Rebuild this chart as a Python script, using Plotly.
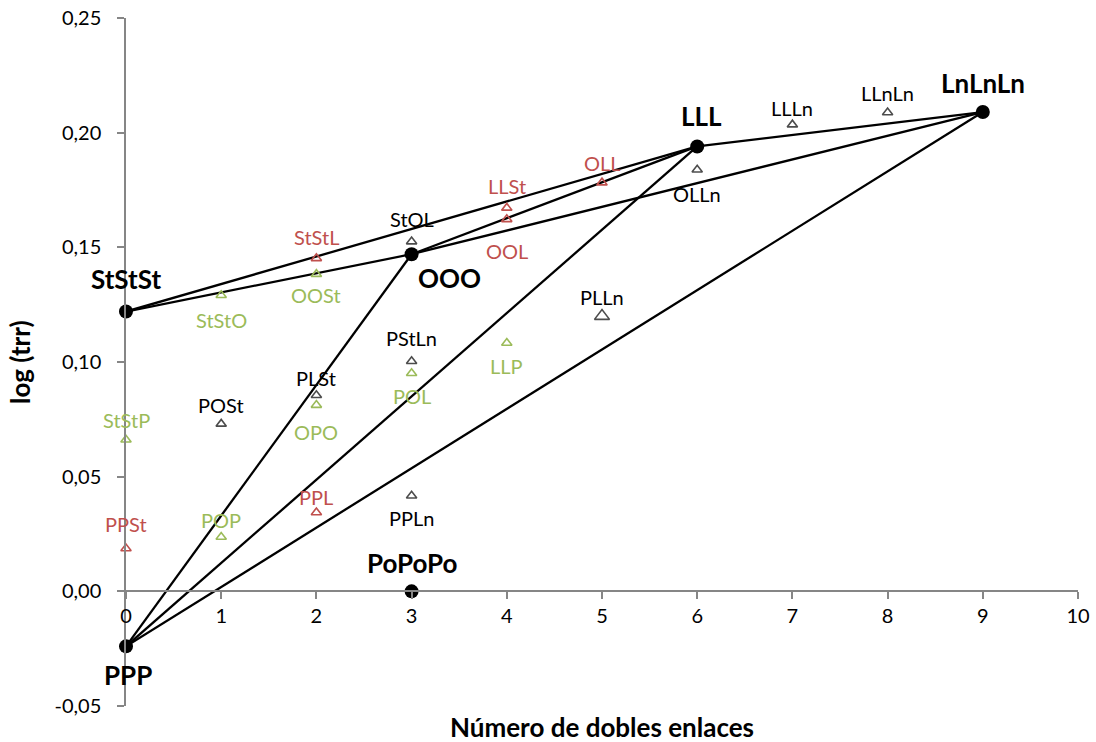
import plotly.graph_objects as go

# ---- data ----
main_names = ["PPP", "StStSt", "OOO", "LLL", "LnLnLn", "PoPoPo"]
main_x = [0, 0, 3, 6, 9, 3]
main_y = [-0.024, 0.122, 0.147, 0.194, 0.209, 0.000]

links = [("StStSt", "LLL"), ("StStSt", "OOO"), ("OOO", "LLL"), ("OOO", "LnLnLn"),
         ("LLL", "LnLnLn"), ("PPP", "OOO"), ("PPP", "LLL"), ("PPP", "LnLnLn")]

black_names = ["POSt", "PLSt", "StOL", "PStLn", "PPLn", "PLLn", "OLLn", "LLLn", "LLnLn"]
black_x = [1, 2, 3, 3, 3, 5, 6, 7, 8]
black_y = [0.0730, 0.0855, 0.1525, 0.1003, 0.0417, 0.1200, 0.1838, 0.2035, 0.2088]

red_names = ["PPSt", "PPL", "StStL", "LLSt", "OOL", "OLL"]
red_x = [0, 2, 2, 4, 4, 5]
red_y = [0.0187, 0.0344, 0.1452, 0.1672, 0.1622, 0.1782]

green_names = ["StStP", "POP", "StStO", "OPO", "OOSt", "POL", "LLP"]
green_x = [0, 1, 1, 2, 2, 3, 4]
green_y = [0.0661, 0.0237, 0.1291, 0.0812, 0.1383, 0.0951, 0.1083]

x_ticks = list(range(0, 11))
y_ticks = [-0.05, 0.0, 0.05, 0.10, 0.15, 0.20, 0.25]
y_tick_labels = ["-0,05", "0,00", "0,05", "0,10", "0,15", "0,20", "0,25"]

# ---- styles (label offsets in pixels: positive = above) ----
FONT = "Lato"
black_shift = [19, 17, 23, 23, -22, 19, -24, 17, 19]
black_size = [9, 9, 9, 9, 9, 13, 9, 9, 9]
red_shift = [24, 15, 21, 22, -32, 20]
green_shift = [20, 17, -25, -27, -21, -23, -23]
main_shift = [(2, -29), (0, 33), (38, -24), (4, 30), (0, 29), (1, 28)]

RED = "#C0504D"
GREEN = "#9BBB59"

fig = go.Figure()

lookup = {n: (x, y) for n, x, y in zip(main_names, main_x, main_y)}
for a, b in links:
    fig.add_trace(go.Scatter(
        x=[lookup[a][0], lookup[b][0]], y=[lookup[a][1], lookup[b][1]],
        mode="lines", line=dict(color="black", width=2.3),
        showlegend=False, hoverinfo="skip", cliponaxis=False))

annotations = []


def add_tri(names, xs, ys, color, shifts, size=9):
    fig.add_trace(go.Scatter(
        x=xs, y=ys, text=names, mode="markers",
        marker=dict(symbol="triangle-up-open", size=size, color=color,
                    line=dict(color=color, width=1.6)),
        showlegend=False, cliponaxis=False))
    for n, x, y, s in zip(names, xs, ys, shifts):
        annotations.append(dict(text=n, x=x, y=y, xref="x", yref="y", showarrow=False,
                                xanchor="center", yanchor="middle", yshift=s,
                                font=dict(family=FONT, size=20, color=color)))


add_tri(black_names, black_x, black_y, "black", black_shift, black_size)
add_tri(red_names, red_x, red_y, RED, red_shift)
add_tri(green_names, green_x, green_y, GREEN, green_shift)

fig.add_trace(go.Scatter(
    x=main_x, y=main_y, text=main_names, mode="markers",
    marker=dict(symbol="circle", size=14, color="black"),
    showlegend=False, cliponaxis=False))
for n, x, y, (dx, dy) in zip(main_names, main_x, main_y, main_shift):
    annotations.append(dict(text="<b>%s</b>" % n, x=x, y=y, xref="x", yref="y",
                            showarrow=False, xanchor="center", yanchor="middle",
                            xshift=dx, yshift=dy,
                            font=dict(family=FONT, size=26, color="black")))

annotations.append(dict(text="<b>Número de dobles enlaces</b>", x=0.5, xref="paper",
                        y=-0.0305, yref="paper", xanchor="center", yanchor="middle",
                        showarrow=False, font=dict(family=FONT, size=26, color="black")))
annotations.append(dict(text="<b>log (trr)</b>", x=-0.1113, xref="paper",
                        y=0.5, yref="paper", xanchor="center", yanchor="middle",
                        textangle=-90, showarrow=False,
                        font=dict(family=FONT, size=26, color="black")))

fig.update_layout(
    width=1096, height=742,
    margin=dict(l=126, r=18, t=18, b=36),
    paper_bgcolor="white", plot_bgcolor="white",
    font=dict(family=FONT, size=20, color="black"),
    xaxis=dict(range=[0, 10], tickvals=x_ticks, anchor="free", position=1 / 6,
               showline=True, linecolor="#868686", linewidth=1.5,
               ticks="outside", ticklen=7, tickcolor="#868686", tickwidth=1.5,
               showgrid=False, zeroline=False, tickfont=dict(size=20),
               automargin=False),
    yaxis=dict(range=[-0.05, 0.25], tickvals=y_ticks, ticktext=y_tick_labels,
               showline=True, linecolor="#868686", linewidth=1.5,
               ticks="outside", ticklen=7, tickcolor="#868686", tickwidth=1.5,
               ticklabelstandoff=12,
               showgrid=False, zeroline=False, tickfont=dict(size=20),
               automargin=False),
    annotations=annotations,
)

fig.write_html("out.html")
